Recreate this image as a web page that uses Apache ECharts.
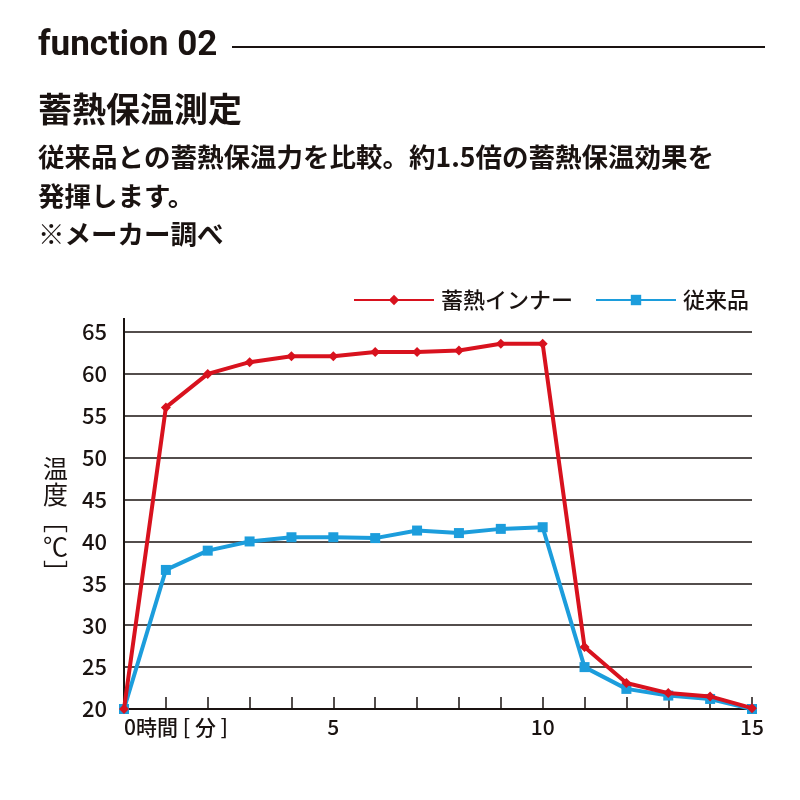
<!DOCTYPE html>
<html>
<head>
<meta charset="utf-8">
<script src="https://cdn.jsdelivr.net/npm/echarts@6/dist/echarts.min.js"></script>
<style>
html,body{margin:0;padding:0;background:#fff;}
#c{width:800px;height:800px;}
</style>
</head>
<body>
<div id="c"></div>
<script>
const minutes = [0,1,2,3,4,5,6,7,8,9,10,11,12,13,14,15];
const innerTemps = [20, 56.0, 60.0, 61.4, 62.1, 62.1, 62.6, 62.6, 62.8, 63.6, 63.6, 27.4, 23.1, 21.9, 21.5, 20.1];
const conventionalTemps = [20, 36.6, 38.9, 40.0, 40.5, 40.5, 40.4, 41.3, 41.0, 41.5, 41.7, 25.0, 22.4, 21.6, 21.2, 20.0];
const xLabelValues = [0, 5, 10, 15];
const seriesNames = ['蓄熱インナー', '従来品'];

const JP = '"Noto Sans CJK JP", "Noto Sans", sans-serif';
const RED = '#d8121e';
const BLUE = '#1c9ddc';
const INK = '#1a1311';

const chart = echarts.init(document.getElementById('c'), null, {renderer: 'canvas'});

const option = {
  backgroundColor: '#fff',
  animation: false,
  title: [
    {text: 'function 02', left: 33, top: 24,
     textStyle: {fontFamily: 'Roboto, sans-serif', fontWeight: 'bold', fontSize: 35, color: INK}},
    {text: '蓄熱保温測定', left: 33, top: 87,
     textStyle: {fontFamily: JP, fontWeight: 'bold', fontSize: 34, color: INK}},
    {text: '従来品との蓄熱保温力を比較。約1.5倍の蓄熱保温効果を', left: 33, top: 139,
     textStyle: {fontFamily: JP, fontWeight: 'bold', fontSize: 26.5, color: INK}},
    {text: '発揮します。', left: 33, top: 178,
     textStyle: {fontFamily: JP, fontWeight: 'bold', fontSize: 26.5, color: INK}},
    {text: '※メーカー調べ', left: 33, top: 216,
     textStyle: {fontFamily: JP, fontWeight: 'bold', fontSize: 26.5, color: INK}}
  ],
  legend: {
    data: seriesNames,
    right: 46,
    top: 284,
    itemWidth: 80,
    itemHeight: 13,
    itemGap: 22,
    textStyle: {fontFamily: JP, fontSize: 22, fontWeight: 500, color: INK, padding: [0,0,0,2]}
  },
  grid: {left: 124, right: 48, top: 332, bottom: 91, containLabel: false},
  xAxis: {
    type: 'value',
    min: 0, max: 15, interval: 1,
    axisLine: {show: true, lineStyle: {color: INK, width: 2}},
    axisTick: {show: true, inside: true, length: 12, lineStyle: {color: INK, width: 1.5}},
    splitLine: {show: false},
    axisLabel: {
      margin: 8,
      fontFamily: JP, fontSize: 21, fontWeight: 500, color: INK,
      alignMinLabel: 'left',
      formatter: function (v) {
        if (v === 0) return '0時間 [ 分 ]';
        return xLabelValues.indexOf(v) >= 0 ? String(v) : '';
      }
    }
  },
  yAxis: {
    type: 'value',
    min: 20, max: 65, interval: 5,
    name: '温\n度\n﹇\n℃\n﹈',
    nameLocation: 'middle',
    nameRotate: 0,
    nameGap: 56,
    nameTextStyle: {fontFamily: JP, fontSize: 25, lineHeight: 26, color: INK, padding: [0,0,22,0]},
    axisLine: {show: true, lineStyle: {color: INK, width: 2}},
    axisTick: {show: false},
    splitLine: {show: true, lineStyle: {color: INK, width: 1.5}},
    axisLabel: {margin: 17, fontFamily: JP, fontSize: 22, fontWeight: 500, color: INK}
  },
  series: [
    {
      name: seriesNames[1], type: 'line',
      data: minutes.map((m, i) => [m, conventionalTemps[i]]),
      symbol: 'rect', symbolSize: 10, showSymbol: true,
      lineStyle: {color: BLUE, width: 4},
      itemStyle: {color: BLUE},
      z: 2
    },
    {
      name: seriesNames[0], type: 'line',
      data: minutes.map((m, i) => [m, innerTemps[i]]),
      symbol: 'diamond', symbolSize: 10, showSymbol: true,
      lineStyle: {color: RED, width: 4},
      itemStyle: {color: RED},
      z: 3
    }
  ]
};
chart.setOption(option);

// decorative rule after the heading and y-axis extension above the top gridline
const axisTop = chart.convertToPixel({gridIndex: 0}, [0, 65]);
chart.setOption({
  graphic: [
    {type: 'line', shape: {x1: 232, y1: 47, x2: 765, y2: 47}, style: {stroke: INK, lineWidth: 2}},
    {type: 'line', shape: {x1: axisTop[0], y1: axisTop[1] - 14, x2: axisTop[0], y2: axisTop[1]}, style: {stroke: INK, lineWidth: 2}}
  ]
});
</script>
</body>
</html>
